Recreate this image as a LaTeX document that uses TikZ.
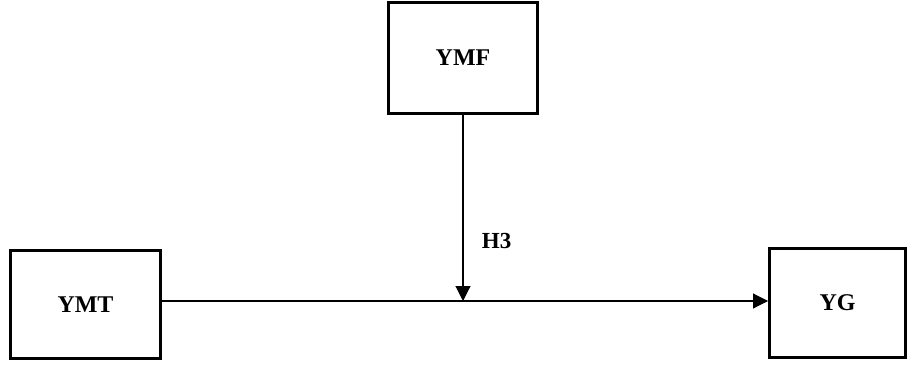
\documentclass[tikz,border=0pt]{standalone}
\usepackage{fontspec}
\setmainfont{Liberation Serif}
\usetikzlibrary{positioning,arrows.meta,calc}

\begin{document}
\begin{tikzpicture}[
    x=1pt, y=1pt,
    var/.style={rectangle, draw, line width=3pt, inner sep=0pt, font=\fontsize{24}{28}\selectfont\bfseries},
    arrow/.style={-{Triangle[length=15pt, width=15pt]}, line width=1.1pt},
    hyp/.style={font=\fontsize{23}{27}\selectfont\bfseries},
]
\useasboundingbox (0,0) rectangle (909,367);

% Variables
\node[var, minimum width=149pt, minimum height=111pt] (ymf) at (463,309) {YMF};
\node[var, minimum width=150pt, minimum height=108pt] (ymt) at (85.5,62.5) {YMT};
\node[var, minimum width=136pt, minimum height=109pt] (yg) at (837.5,64) {YG};

% Point where the moderator meets the main path
\coordinate (hit) at (ymf.south |- 0,66);

% Main effect
\draw[arrow] (ymt.east |- hit) -- (yg.west |- hit);

% Moderation
\draw[arrow] (ymf.south) -- node[hyp, pos=0.68, right=15pt] {H3} (hit);

\end{tikzpicture}
\end{document}
